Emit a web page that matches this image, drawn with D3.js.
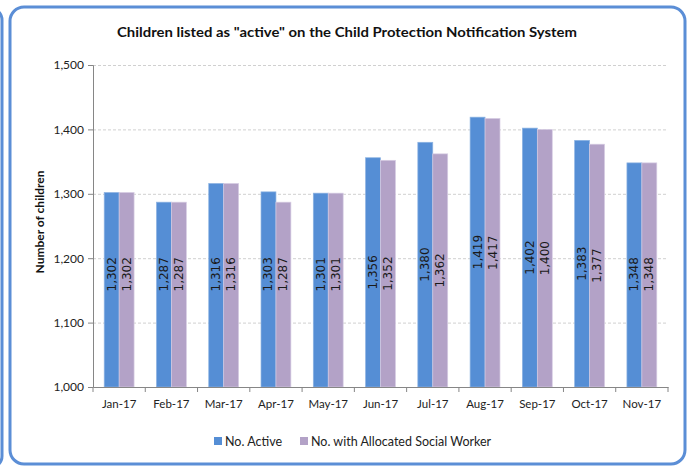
<!DOCTYPE html>
<html><head><meta charset="utf-8">
<script src="https://cdn.jsdelivr.net/npm/d3@7"></script>
<style>body{margin:0;background:#fff}svg{display:block}</style>
</head><body>
<svg id="c" width="688" height="476"></svg>
<script>
const categories = ["Jan-17","Feb-17","Mar-17","Apr-17","May-17","Jun-17","Jul-17","Aug-17","Sep-17","Oct-17","Nov-17"];
const activeValues = [1302,1287,1316,1303,1301,1356,1380,1419,1402,1383,1348];
const allocatedValues = [1302,1287,1316,1287,1301,1352,1362,1417,1400,1377,1348];
const seriesNames = ["No. Active","No. with Allocated Social Worker"];
const seriesColors = ["#558ED5","#B3A2C7"];
const yTicks = [1000,1100,1200,1300,1400,1500];

const svg = d3.select("#c");
const m={left:93,right:668,top:65,bottom:387};

// frames
svg.append("rect").attr("x",-680).attr("y",8).attr("width",682).attr("height",460).attr("rx",12)
  .attr("fill","none").attr("stroke","#5B8ED6").attr("stroke-width",3);
svg.append("rect").attr("x",10).attr("y",7).attr("width",675).attr("height",457).attr("rx",14)
  .attr("fill","#fff").attr("stroke","#5B8ED6").attr("stroke-width",3);

const x = d3.scaleBand().domain(categories).range([m.left,m.right]).paddingInner(0).paddingOuter(0);
const inner = d3.scaleBand().domain([0,1]).range([0,x.bandwidth()]).paddingOuter(0.75).paddingInner(0);
const y = d3.scaleLinear().domain([1000,1500]).range([m.bottom,m.top]);

// gridlines
svg.append("g").selectAll("line").data(yTicks.filter(d=>d>1000)).join("line")
  .attr("x1",m.left).attr("x2",m.right).attr("y1",d=>y(d)+0.5).attr("y2",d=>y(d)+0.5)
  .attr("stroke","#D0D0D0").attr("stroke-dasharray","3,2").attr("stroke-width",1);

// bars
const series=[activeValues,allocatedValues];
series.forEach((vals,si)=>{
  const g=svg.append("g");
  g.selectAll("rect").data(vals).join("rect")
    .attr("x",(d,i)=>x(categories[i])+inner(si))
    .attr("width",inner.bandwidth())
    .attr("y",d=>y(d))
    .attr("height",d=>y(1000)-y(d))
    .attr("fill",seriesColors[si])
    .attr("stroke",si===0?"#8DB3E2":"#D6CCE3").attr("stroke-width",0.7);
});

// axes
const yAxis = d3.axisLeft(y).tickValues(yTicks).tickSize(5).tickFormat(d3.format(","));
const ya = svg.append("g").attr("transform",`translate(${m.left},0)`).call(yAxis);
ya.select(".domain").attr("stroke","#868686");
ya.selectAll(".tick line").attr("stroke","#868686");
ya.selectAll("text").attr("font-family","Lato").attr("font-size","12px").attr("fill","#222").attr("dx","-1");

const xa = svg.append("g").attr("transform",`translate(0,${m.bottom})`).call(d3.axisBottom(x).tickSize(0).tickPadding(13));
xa.select(".domain").attr("stroke","#868686");
xa.selectAll("text").attr("font-family","Lato").attr("font-size","11.5px").attr("fill","#222");
svg.append("g").selectAll("line").data(categories.concat(["end"])).join("line")
  .attr("x1",(d,i)=>m.left+i*x.step()).attr("x2",(d,i)=>m.left+i*x.step())
  .attr("y1",m.bottom).attr("y2",m.bottom+5).attr("stroke","#868686");

// data labels
const labelCap = y(1175);
series.forEach((vals,si)=>{
  svg.append("g").selectAll("text").data(vals).join("text")
    .attr("transform",(d,i)=>{
      const cx=x(categories[i])+inner(si)+inner.bandwidth()/2;
      const cy=Math.min((y(d)+y(1000))/2,labelCap);
      return `translate(${cx},${cy}) rotate(-90)`;
    })
    .attr("text-anchor","middle").attr("dominant-baseline","central")
    .attr("font-family","DejaVu Sans").attr("font-size","12px").attr("fill","#1a1a1a")
    .text(d=>d3.format(",")(d));
});

// title
svg.append("text").attr("x",347).attr("y",37).attr("text-anchor","middle")
  .attr("font-family","Lato").attr("font-weight","bold").attr("font-size","14px").attr("fill","#111")
  .attr("textLength",460).attr("lengthAdjust","spacingAndGlyphs")
  .text('Children listed as "active" on the Child Protection Notification System');

// y title
svg.append("text").attr("transform","translate(44,222) rotate(-90)").attr("text-anchor","middle")
  .attr("font-family","Lato").attr("font-weight","bold").attr("font-size","12px").attr("fill","#111")
  .text("Number of children");

// legend
const lg = svg.append("g");
const legendX=[214,300];
seriesNames.forEach((n,i)=>{
  lg.append("rect").attr("x",legendX[i]).attr("y",437).attr("width",8).attr("height",8).attr("fill",seriesColors[i]);
  lg.append("text").attr("x",legendX[i]+11).attr("y",441.5).attr("dominant-baseline","central")
    .attr("font-family","Lato").attr("font-size","12.5px").attr("fill","#222").text(n);
});
</script>
</body></html>
